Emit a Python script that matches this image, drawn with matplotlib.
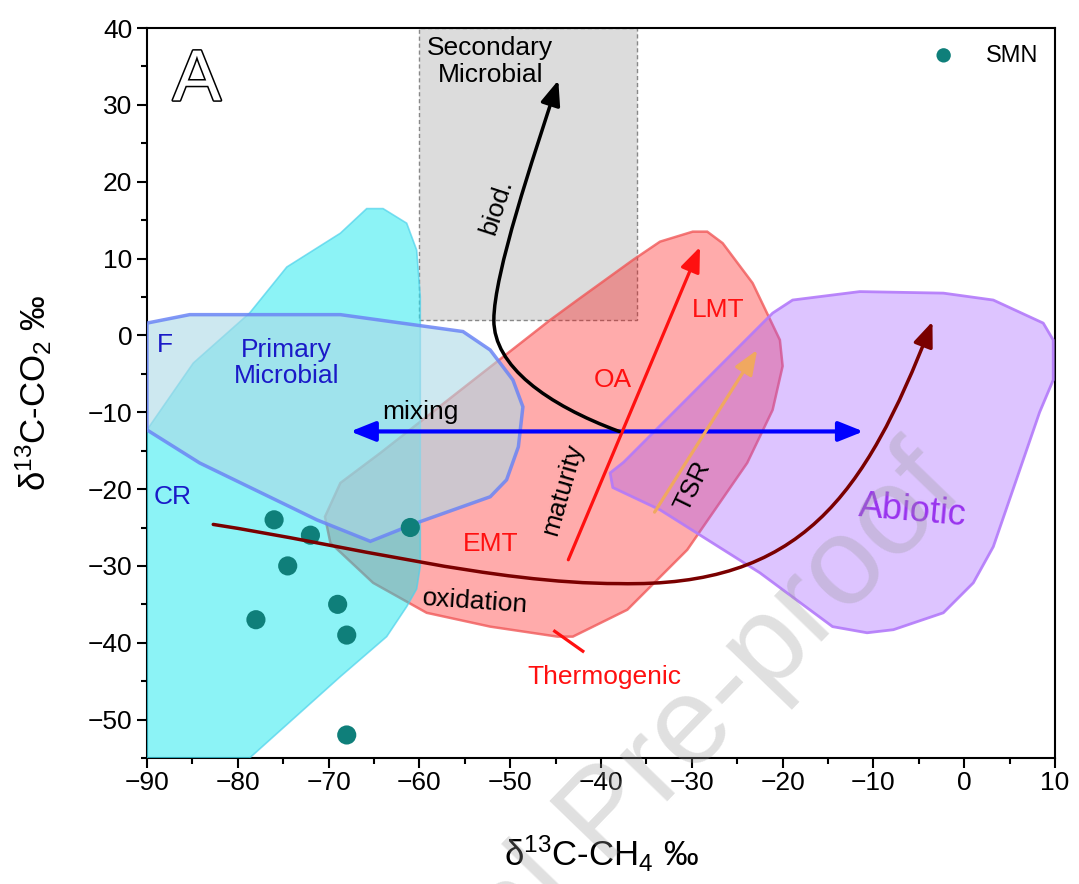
import matplotlib
matplotlib.use("Agg")
import matplotlib.pyplot as plt
import matplotlib.patheffects as pe
from matplotlib.patches import Polygon, Rectangle, FancyArrowPatch
from matplotlib.path import Path
from matplotlib.ticker import MultipleLocator

plt.rcParams['font.family'] = ['Liberation Sans', 'DejaVu Sans']
plt.rcParams['mathtext.fontset'] = 'custom'
plt.rcParams['mathtext.rm'] = 'Liberation Sans'
plt.rcParams['mathtext.it'] = 'Liberation Sans:italic'

# SMN samples (d13C-CH4, d13C-CO2)
smn_ch4 = [-76, -72, -61, -74.5, -69, -78, -68, -68]
smn_co2 = [-24, -26, -25, -30, -35, -37, -39, -52]

# genetic fields
cyan_x = [-90, -90, -84.9, -78.7, -74.6, -68.7, -65.8, -64, -61.4, -60.3, -59.9, -59.9, -60.3, -61.4, -63.6, -68.7, -78.7]
cyan_y = [-55, -12.3, -3.6, 2.9, 8.9, 13.3, 16.5, 16.5, 14.6, 11.1, 5, -30, -33, -35.3, -39.2, -44.4, -55]

blue_x = [-90, -85.3, -68.7, -55.2, -52.2, -49.7, -48.6, -49.1, -50.4, -52.2, -60.3, -65.4, -71.3, -84.2, -90]
blue_y = [1.6, 2.7, 2.7, 0.5, -1.9, -5.8, -9.3, -14.5, -18.8, -21, -24.4, -26.8, -24, -16.6, -12.3]

red_x = [-64.3, -45.6, -42.6, -36.5, -33.5, -29.9, -28.3, -26.6, -23.3, -20.3, -20, -21.1, -23.9, -30.5, -37.1,
         -43.1, -44.8, -52.2, -59.2, -65.1, -69.8, -70.4, -68.7]
red_y = [-15.3, 2, 4.6, 9.8, 12.2, 13.5, 13.5, 12, 6.8, -0.6, -4, -9.7, -16.6, -27.9, -35.7,
         -39.2, -39.2, -37.9, -36.1, -32.2, -27, -23.6, -19.2]

purple_x = [-39, -37.5, -21.1, -18.9, -11.5, -2.3, 3.2, 8.7, 9.8, 9.8, 8.3, 3.2, 1, -2.3, -7.8, -10.7, -14.5, -22.5, -33.5, -38.7]
purple_y = [-17.9, -16.5, 2.9, 4.6, 5.7, 5.5, 4.6, 1.6, -0.6, -5.8, -10, -27.5, -32.2, -36.1, -38.3, -38.7, -37.9, -30.9, -22.7, -19.8]

sec_box = (-60, 2, 24, 38)  # x0, y0, width, height

# process arrows
mix_from, mix_to = (-67.6, -12.5), (-11.1, -12.5)
mat_from, mat_to = (-43.6, -29.2), (-29.1, 11.5)
tsr_from, tsr_to = (-34.1, -23.0), (-22.8, -1.9)
biod_pts = [(-38, -12.5), (-46, -9), (-51.8, -4), (-51.8, 2),
            (-51.8, 8), (-47.45, 23.2), (-44.7, 33.2)]
oxid_pts = [(-82.7, -24.6), (-68, -27.3), (-52, -32.3), (-38, -32.3),
            (-18, -32.8), (-11, -21), (-3.5, 1.8)]
thermo_tick = ([-45.1, -42.0], [-38.5, -41.1])

fig = plt.figure(figsize=(10.79, 8.84), dpi=100)
ax = fig.add_axes([0.1362, 0.1425, 0.8416, 0.8258])

ax.add_patch(Rectangle(sec_box[:2], sec_box[2], sec_box[3], facecolor='#dcdcdc',
                       edgecolor='#888888', linestyle=(0, (3, 2)), lw=1, zorder=1))
ax.add_patch(Polygon(list(zip(red_x, red_y)), closed=True, facecolor=(1, 0, 0, 0.33),
                     edgecolor=(0.94, 0.35, 0.35, 0.8), lw=1.8, zorder=2))
ax.add_patch(Polygon(list(zip(cyan_x, cyan_y)), closed=True, facecolor=(0.0, 0.9, 0.93, 0.45),
                     edgecolor=(0.3, 0.82, 0.92, 0.7), lw=1.2, zorder=3))
ax.add_patch(Polygon(list(zip(blue_x, blue_y)), closed=True, facecolor=(0.68, 0.85, 0.9, 0.6),
                     edgecolor=(0.42, 0.52, 0.96, 0.85), lw=2.5, zorder=4))
ax.add_patch(Polygon(list(zip(purple_x, purple_y)), closed=True, facecolor=(0.6, 0.3, 1.0, 0.33),
                     edgecolor=(0.7, 0.48, 0.98, 0.9), lw=2, joinstyle='round', zorder=4))

ax.scatter(smn_ch4, smn_co2, s=190, color='#0f7f7a', zorder=5, label='SMN', edgecolors='none')

style = '-|>,head_length=0.5,head_width=0.2'
kw = dict(mutation_scale=30, zorder=6)
ax.add_patch(FancyArrowPatch(mix_from, mix_to, arrowstyle='<|-|>,head_length=0.5,head_width=0.2',
                             color='#0000ff', lw=3, shrinkA=0, shrinkB=0, **kw))
ax.add_patch(FancyArrowPatch(mat_from, mat_to, arrowstyle=style,
                             color='#ff1010', lw=2.3, shrinkA=0, shrinkB=0, **kw))
ax.add_patch(FancyArrowPatch(tsr_from, tsr_to, arrowstyle=style,
                             color='#f0a860', lw=2.3, shrinkA=0, shrinkB=0, **kw))
codes = [Path.MOVETO] + [Path.CURVE4] * 6
ax.add_patch(FancyArrowPatch(path=Path(biod_pts, codes), arrowstyle=style,
                             color='black', lw=2.5, **kw))
ax.add_patch(FancyArrowPatch(path=Path(oxid_pts, codes), arrowstyle=style,
                             color='#7a0000', lw=2.5, **kw))
ax.plot(*thermo_tick, color='#ff1010', lw=2.3, zorder=6)

fs = 19
blue_txt = '#1a1ac8'
red_txt = '#ff1010'
ax.text(-88, -1.2, 'F', color=blue_txt, fontsize=fs, ha='center', va='center', zorder=7)
ax.text(-74.6, -3.6, 'Primary\nMicrobial', color=blue_txt, fontsize=fs, ha='center', va='center',
        linespacing=1.15, zorder=7)
ax.text(-87.2, -21, 'CR', color=blue_txt, fontsize=fs, ha='center', va='center', zorder=7)
ax.text(-52.2, 35.6, 'Secondary\nMicrobial', color='black', fontsize=fs, ha='center', va='center',
        linespacing=1.15, zorder=7)
ax.text(-59.9, -10, 'mixing', color='black', fontsize=fs, ha='center', va='center', zorder=7)
ax.text(-51.5, 16.7, 'biod.', color='black', fontsize=fs, ha='center', va='center', rotation=72, zorder=7)
ax.text(-38.7, -5.8, 'OA', color=red_txt, fontsize=fs, ha='center', va='center', zorder=7)
ax.text(-27.1, 3.3, 'LMT', color=red_txt, fontsize=fs, ha='center', va='center', zorder=7)
ax.text(-44.2, -20, 'maturity', color='black', fontsize=fs, ha='center', va='center', rotation=74, zorder=7)
ax.text(-29.9, -19.7, 'TSR', color='black', fontsize=fs, ha='center', va='center', rotation=64, zorder=7)
ax.text(-52.2, -27.2, 'EMT', color=red_txt, fontsize=fs, ha='center', va='center', zorder=7)
ax.text(-53.9, -34.6, 'oxidation', color='black', fontsize=fs, ha='center', va='center', rotation=-4, zorder=7)
ax.text(-39.6, -44.4, 'Thermogenic', color=red_txt, fontsize=fs, ha='center', va='center', zorder=7)
ax.text(-5.7, -22.9, 'Abiotic', color='#9933ee', fontsize=26, ha='center', va='center', rotation=-5, zorder=7)
ax.text(-84.5, 33, 'A', color='white', fontsize=52, ha='center', va='center', zorder=7,
        path_effects=[pe.withStroke(linewidth=2.2, foreground='black')])

ax.set_xlim(-90, 10)
ax.set_ylim(-55, 40)
ax.xaxis.set_major_locator(MultipleLocator(10))
ax.xaxis.set_minor_locator(MultipleLocator(5))
ax.yaxis.set_major_locator(MultipleLocator(10))
ax.yaxis.set_minor_locator(MultipleLocator(5))
ax.tick_params(which='both', direction='out', width=1.5, top=False, right=False, labelsize=19)
ax.tick_params(which='major', length=7)
ax.tick_params(which='minor', length=4)
ax.tick_params(axis='x', pad=2)
for s in ax.spines.values():
    s.set_linewidth(1.5)

ax.set_xlabel(r'$\mathregular{\delta^{13}}$C-CH$\mathregular{_4}$ ‰', fontsize=25, labelpad=28)
ax.set_ylabel(r'$\mathregular{\delta^{13}}$C-CO$\mathregular{_2}$ ‰', fontsize=25, labelpad=24)

ax.legend(loc='upper right', frameon=False, fontsize=17, handletextpad=0.8,
          borderaxespad=0.3, scatterpoints=1, markerscale=0.75)

# watermark of the source page
fig.text(0.895, 0.443, 'Journal Pre-proof', fontsize=90, color='#999999', alpha=0.3,
         rotation=46, ha='right', va='baseline', rotation_mode='anchor', zorder=10)

fig.savefig('out.png', dpi=100)
